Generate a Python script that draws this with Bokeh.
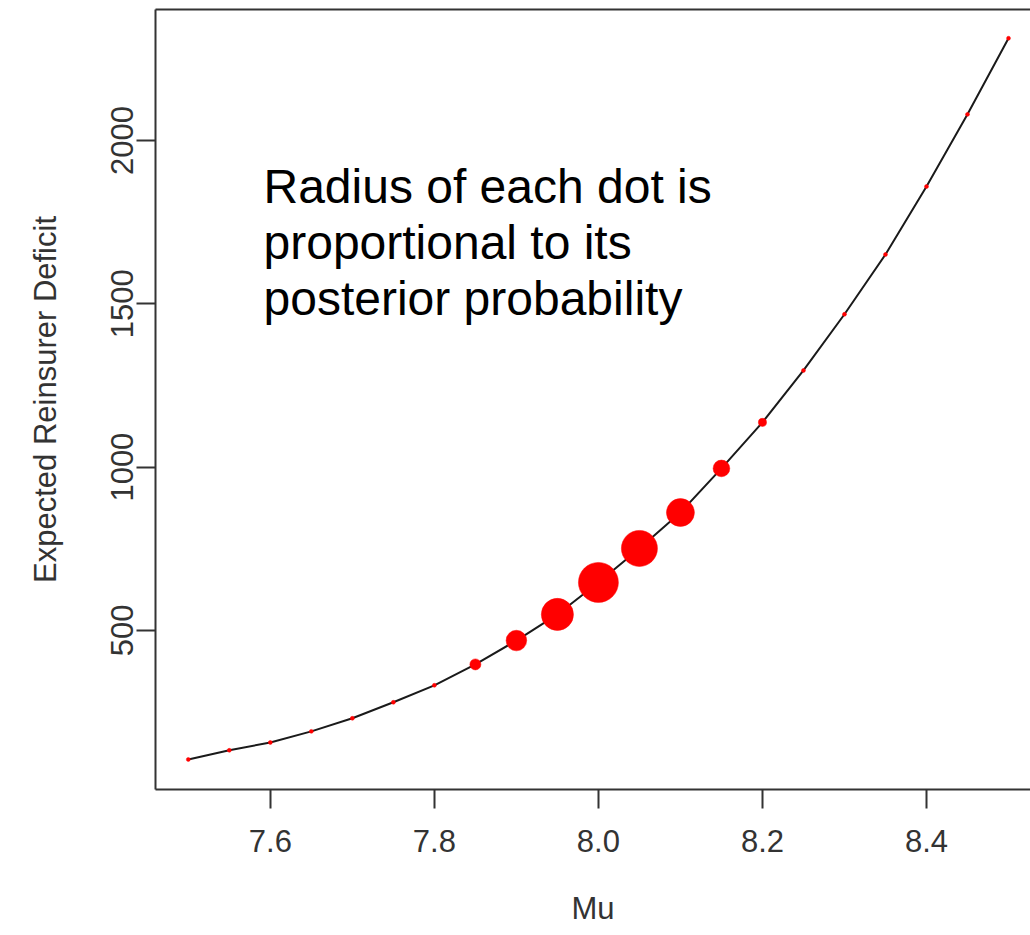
from bokeh.plotting import figure
from bokeh.models import Range1d, FixedTicker, LinearAxis, Label, ColumnDataSource
from bokeh.embed import file_html
from bokeh.resources import INLINE

# ---- data ----
mu = [7.50, 7.55, 7.60, 7.65, 7.70, 7.75, 7.80, 7.85, 7.90, 7.95, 8.00,
      8.05, 8.10, 8.15, 8.20, 8.25, 8.30, 8.35, 8.40, 8.45, 8.50]
deficit = [105, 133, 157, 191, 231, 280, 332, 396, 469, 549, 647,
           751, 861, 996, 1137, 1296, 1468, 1651, 1859, 2080, 2313]
post_prob = [0.016, 0.016, 0.016, 0.016, 0.016, 0.016, 0.016, 0.045, 0.084, 0.131, 0.163,
             0.147, 0.114, 0.068, 0.033, 0.016, 0.016, 0.016, 0.016, 0.016, 0.016]
x_ticks = [7.6, 7.8, 8.0, 8.2, 8.4]
x_tick_labels = ["7.6", "7.8", "8.0", "8.2", "8.4"]
y_ticks = [500, 1000, 1500, 2000]
y_tick_labels = ["500", "1000", "1500", "2000"]
note_lines = ["Radius of each dot is", "proportional to its", "posterior probability"]

RADIUS_PX_PER_PROB = 122.6
FONT = "Liberation Sans"
AX_COLOR = "#333333"

src = ColumnDataSource(dict(
    mu=mu, deficit=deficit,
    size=[2 * RADIUS_PX_PER_PROB * p for p in post_prob],
))

p = figure(width=1030, height=935, output_backend="svg", toolbar_location=None,
           x_range=Range1d(7.46, 8.5268), y_range=Range1d(13, 2401),
           x_axis_location=None, y_axis_location=None,
           min_border_left=155, min_border_right=0, min_border_top=9, min_border_bottom=146)
p.xgrid.visible = False
p.ygrid.visible = False
p.outline_line_color = None
p.background_fill_color = "white"
p.border_fill_color = "white"

xaxis = LinearAxis(ticker=FixedTicker(ticks=x_ticks),
                   major_label_overrides={t: l for t, l in zip(x_ticks, x_tick_labels)},
                   axis_label="Mu")
yaxis = LinearAxis(ticker=FixedTicker(ticks=y_ticks),
                   major_label_overrides={t: l for t, l in zip(y_ticks, y_tick_labels)},
                   axis_label="Expected Reinsurer Deficit",
                   major_label_orientation="vertical")
for ax, so, lso in ((xaxis, 21, 36), (yaxis, 3, 46)):
    ax.axis_line_color = AX_COLOR
    ax.axis_line_width = 2
    ax.major_tick_line_color = AX_COLOR
    ax.major_tick_line_width = 2
    ax.major_tick_out = 19
    ax.major_tick_in = 0
    ax.minor_tick_out = 0
    ax.minor_tick_in = 0
    ax.major_label_text_font = FONT
    ax.major_label_text_font_size = "31px"
    ax.major_label_text_color = AX_COLOR
    ax.major_label_standoff = so
    ax.axis_label_text_font = FONT
    ax.axis_label_text_font_size = "31px"
    ax.axis_label_text_font_style = "normal"
    ax.axis_label_text_color = AX_COLOR
    ax.axis_label_standoff = lso
p.add_layout(xaxis, "below")
p.add_layout(yaxis, "left")

top = LinearAxis(ticker=FixedTicker(ticks=[]), major_label_text_font_size="0px",
                 major_tick_out=0, major_tick_in=0, minor_tick_out=0, minor_tick_in=0,
                 axis_line_color=AX_COLOR, axis_line_width=2)
p.add_layout(top, "above")

p.line("mu", "deficit", source=src, line_color="#1a1a1a", line_width=2)
p.scatter("mu", "deficit", source=src, size="size", fill_color="#ff0000",
          line_color="#ff0000", line_width=0.5)

# label positions in screen units relative to the plot frame
for i, txt in enumerate(note_lines):
    p.add_layout(Label(x=108, y=603 - 56 * i, x_units="screen", y_units="screen",
                       text=txt, text_font=FONT, text_font_size="48px",
                       text_color="black", text_baseline="alphabetic", text_align="left"))

open("out.html", "w").write(file_html(p, INLINE))
